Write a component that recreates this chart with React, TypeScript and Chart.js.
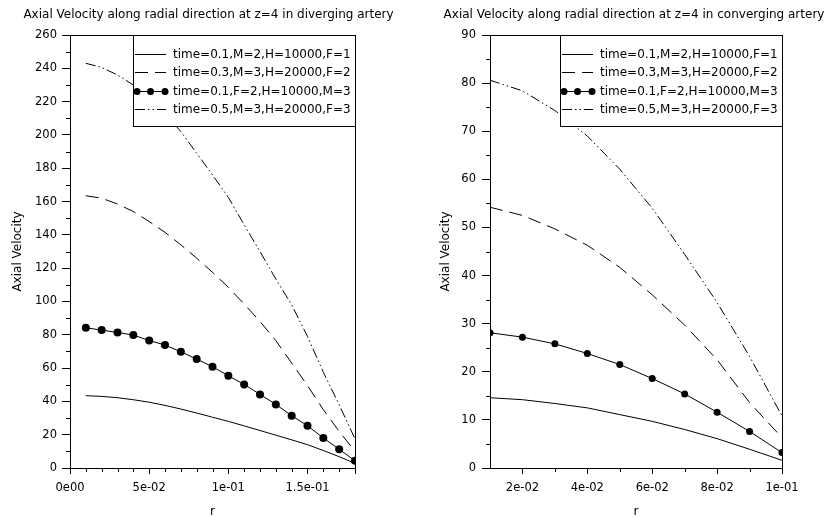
import React, { useEffect, useRef } from 'react';
import { Chart, registerables } from 'chart.js';

Chart.register(...registerables);

const FONT = "'DejaVu Sans', 'Liberation Sans', sans-serif";

// ---------- data ----------
const LEGEND_LABELS = [
  'time=0.1,M=2,H=10000,F=1',
  'time=0.3,M=3,H=20000,F=2',
  'time=0.1,F=2,H=10000,M=3',
  'time=0.5,M=3,H=20000,F=3',
];

const LEFT_TITLE = 'Axial Velocity along radial direction at z=4 in diverging artery';
const RIGHT_TITLE = 'Axial Velocity along radial direction at z=4 in converging artery';
const Y_TITLE = 'Axial Velocity';
const X_TITLE = 'r';

const LEFT_R = [0.01, 0.02, 0.03, 0.04, 0.05, 0.06, 0.07, 0.08, 0.09, 0.1, 0.11, 0.12, 0.13, 0.14, 0.15, 0.16, 0.17, 0.18];
const LEFT_S1 = [43.4, 43.0, 42.2, 41.0, 39.5, 37.6, 35.4, 33.0, 30.5, 28.0, 25.3, 22.5, 19.7, 16.9, 14.0, 10.5, 6.8, 2.8];
const LEFT_S2 = [163.5, 162, 158.5, 154, 148, 141.5, 134, 126, 117.5, 108.5, 98.5, 88, 76.5, 63, 49.5, 35, 22, 10];
const LEFT_S3 = [84.2, 82.8, 81.4, 79.8, 76.6, 73.8, 69.8, 65.4, 60.8, 55.4, 50.2, 44.2, 38.2, 31.4, 25.4, 18.0, 11.3, 4.3];
const LEFT_S4 = [243, 240.5, 236, 230, 222.5, 213, 202, 189, 176, 162.5, 146, 130, 113.5, 98, 79, 57.5, 38, 17.5];

const RIGHT_R = [0.01, 0.02, 0.03, 0.04, 0.05, 0.06, 0.07, 0.08, 0.09, 0.1];
const RIGHT_S1 = [14.6, 14.2, 13.4, 12.5, 11.1, 9.7, 8.0, 6.1, 3.9, 1.6];
const RIGHT_S2 = [54.2, 52.5, 49.7, 46.3, 41.7, 36.0, 29.7, 22.5, 13.6, 6.3];
const RIGHT_S3 = [28.1, 27.2, 25.8, 23.8, 21.5, 18.6, 15.4, 11.6, 7.6, 3.2];
const RIGHT_S4 = [80.6, 78.4, 74.3, 69.0, 62.1, 54.0, 44.4, 34.4, 23.2, 10.8];

const LEFT_X_TICKS = [0, 0.05, 0.1, 0.15, 0.18];
const LEFT_X_LABELS = ['0e00', '5e-02', '1e-01', '1.5e-01', ''];
const RIGHT_X_TICKS = [0.02, 0.04, 0.06, 0.08, 0.1];
const RIGHT_X_LABELS = ['2e-02', '4e-02', '6e-02', '8e-02', '1e-01'];

// ---------- helpers ----------
function minorValues(min: number, max: number, step: number, majors: number[]) {
  const out: number[] = [];
  const n = Math.round((max - min) / step);
  for (let i = 0; i <= n; i++) {
    const v = min + i * step;
    if (!majors.some((m) => Math.abs(m - v) < step * 0.01)) out.push(v);
  }
  return out;
}

const framePlugin = {
  id: 'frame',
  afterDatasetsDraw(chart: any) {
    const { ctx, chartArea: a } = chart;
    ctx.save();
    ctx.strokeStyle = '#000';
    ctx.lineWidth = 1;
    ctx.setLineDash([]);
    ctx.strokeRect(a.left + 0.5, a.top + 0.5, a.right - a.left, a.bottom - a.top);
    ctx.restore();
  },
};

const minorTicksPlugin = {
  id: 'minorTicks',
  afterDraw(chart: any, _args: any, opts: any) {
    const { ctx, chartArea: a, scales } = chart;
    ctx.save();
    ctx.strokeStyle = '#000';
    ctx.lineWidth = 1;
    ctx.setLineDash([]);
    for (const v of opts.x || []) {
      const px = Math.round(scales.x.getPixelForValue(v)) + 0.5;
      ctx.beginPath();
      ctx.moveTo(px, a.bottom);
      ctx.lineTo(px, a.bottom + opts.xLen);
      ctx.stroke();
    }
    for (const v of opts.y || []) {
      const py = Math.round(scales.y.getPixelForValue(v)) + 0.5;
      ctx.beginPath();
      ctx.moveTo(a.left - opts.yLen, py);
      ctx.lineTo(a.left, py);
      ctx.stroke();
    }
    ctx.restore();
  },
};

const boxLegendPlugin = {
  id: 'boxLegend',
  afterDatasetsDraw(chart: any, _args: any, opts: any) {
    const { ctx, chartArea: a } = chart;
    const left = a.right - opts.width;
    const top = a.top;
    ctx.save();
    ctx.fillStyle = '#fff';
    ctx.fillRect(left, top, opts.width, opts.height);
    ctx.strokeStyle = '#000';
    ctx.lineWidth = 1;
    ctx.setLineDash([]);
    ctx.strokeRect(Math.round(left) + 0.5, top + 0.5, a.right - Math.round(left), opts.height);
    ctx.font = `12px ${FONT}`;
    ctx.textBaseline = 'middle';
    ctx.textAlign = 'left';
    chart.data.datasets.forEach((ds: any, i: number) => {
      const y = Math.round(top + opts.firstRow + i * opts.rowGap) + 0.5;
      const x0 = left + opts.sampleStart;
      const x1 = x0 + opts.sampleLen;
      ctx.strokeStyle = '#000';
      ctx.lineWidth = 1;
      ctx.setLineDash(ds.borderDash || []);
      ctx.beginPath();
      ctx.moveTo(x0, y);
      ctx.lineTo(x1, y);
      ctx.stroke();
      ctx.setLineDash([]);
      if (ds.pointRadius > 0) {
        ctx.fillStyle = '#000';
        for (const px of [x0 + 2, (x0 + x1) / 2, x1 - 1]) {
          ctx.beginPath();
          ctx.arc(px, y, opts.markerRadius, 0, Math.PI * 2);
          ctx.fill();
        }
      }
      ctx.fillStyle = '#000';
      ctx.fillText(ds.label, left + opts.textStart, y);
    });
    ctx.restore();
  },
};

function makeDatasets(r: number[], series: number[][], pointR: number) {
  const dashes = [[], [13, 7], [], [10, 3, 1.5, 3, 1.5, 3]];
  return series.map((vals, i) => ({
    label: LEGEND_LABELS[i],
    data: r.map((x, k) => ({ x, y: vals[k] })),
    borderColor: '#000',
    backgroundColor: '#000',
    borderWidth: 1,
    borderDash: dashes[i],
    pointRadius: i === 2 ? pointR : 0,
    pointBackgroundColor: '#000',
    pointBorderColor: '#000',
    pointBorderWidth: 0,
    tension: 0,
    fill: false,
    xAxisID: 'x',
    yAxisID: 'y',
  }));
}

interface Cfg {
  title: string;
  r: number[];
  series: number[][];
  pointR: number;
  xMin: number;
  xMax: number;
  yMax: number;
  yStep: number;
  yMinorStep: number;
  xMinorStep: number;
  xTicks: number[];
  xLabels: string[];
  padLeft: number;
  yWidth: number;
  rightWidth: number;
  yTitlePad: number;
  yTickPad: number;
}

function buildConfig(c: Cfg): any {
  const yMajors: number[] = [];
  for (let v = 0; v <= c.yMax + 1e-9; v += c.yStep) yMajors.push(v);
  return {
    type: 'line',
    data: { datasets: makeDatasets(c.r, c.series, c.pointR) },
    plugins: [framePlugin, minorTicksPlugin, boxLegendPlugin],
    options: {
      responsive: false,
      animation: false,
      devicePixelRatio: 1,
      layout: { padding: { left: c.padLeft, right: 0, top: 0, bottom: 0 } },
      plugins: {
        legend: { display: false },
        tooltip: { enabled: false },
        title: {
          display: true,
          text: c.title,
          color: '#000',
          font: { family: FONT, size: 12, weight: 'normal' },
          padding: { top: 8, bottom: 12.6 },
        },
        minorTicks: {
          x: minorValues(c.xMin, c.xMax, c.xMinorStep, [c.xMin, ...c.xTicks]),
          y: minorValues(0, c.yMax, c.yMinorStep, yMajors),
          xLen: 4,
          yLen: 4,
        },
        boxLegend: {
          width: 222,
          height: 91,
          firstRow: 18.5,
          rowGap: 18.5,
          sampleStart: 2,
          sampleLen: 31,
          textStart: 40,
          markerRadius: 3.5,
        },
      },
      scales: {
        x: {
          type: 'linear',
          position: 'bottom',
          min: c.xMin,
          max: c.xMax,
          afterBuildTicks: (s: any) => {
            s.ticks = c.xTicks.map((v) => ({ value: v }));
          },
          afterFit: (s: any) => {
            s.height = 49;
          },
          ticks: {
            autoSkip: false,
            maxRotation: 0,
            color: '#000',
            padding: 7,
            font: { family: FONT, size: 11.5 },
            callback: (_v: any, i: number) => c.xLabels[i],
          },
          grid: { display: true, drawOnChartArea: false, drawTicks: true, tickLength: 6, color: '#000', lineWidth: 1 },
          border: { display: true, color: '#000', width: 1 },
          title: {
            display: true,
            text: X_TITLE,
            color: '#000',
            font: { family: FONT, size: 12 },
            padding: { top: 0, bottom: -2 },
          },
        },
        y: {
          type: 'linear',
          position: 'left',
          min: 0,
          max: c.yMax,
          afterFit: (s: any) => {
            s.width = c.yWidth;
          },
          ticks: {
            stepSize: c.yStep,
            autoSkip: false,
            color: '#000',
            padding: c.yTickPad,
            font: { family: FONT, size: 11.5 },
          },
          grid: { display: true, drawOnChartArea: false, drawTicks: true, tickLength: 8, color: '#000', lineWidth: 1 },
          border: { display: true, color: '#000', width: 1 },
          title: {
            display: true,
            text: Y_TITLE,
            color: '#000',
            font: { family: FONT, size: 12 },
            padding: { top: c.yTitlePad, bottom: 0 },
          },
        },
        yR: {
          type: 'linear',
          position: 'right',
          display: true,
          afterFit: (s: any) => {
            s.width = c.rightWidth;
          },
          ticks: { display: false },
          grid: { display: false },
          border: { display: false },
        },
      },
    },
  };
}

function ChartCanvas({ cfg }: { cfg: Cfg }) {
  const ref = useRef<HTMLCanvasElement | null>(null);
  useEffect(() => {
    if (!ref.current) return;
    const chart = new Chart(ref.current, buildConfig(cfg));
    return () => chart.destroy();
  }, []);
  return <canvas ref={ref} width={417} height={517} style={{ display: 'block', width: 417, height: 517 }} />;
}

const LEFT_CFG: Cfg = {
  title: LEFT_TITLE,
  r: LEFT_R,
  series: [LEFT_S1, LEFT_S2, LEFT_S3, LEFT_S4],
  pointR: 4,
  xMin: 0,
  xMax: 0.18,
  yMax: 260,
  yStep: 20,
  yMinorStep: 10,
  xMinorStep: 0.01,
  xTicks: LEFT_X_TICKS,
  xLabels: LEFT_X_LABELS,
  padLeft: 0,
  yWidth: 70,
  rightWidth: 62,
  yTitlePad: 11,
  yTickPad: 5,
};

const RIGHT_CFG: Cfg = {
  title: RIGHT_TITLE,
  r: RIGHT_R,
  series: [RIGHT_S1, RIGHT_S2, RIGHT_S3, RIGHT_S4],
  pointR: 3.5,
  xMin: 0.01,
  xMax: 0.1,
  yMax: 90,
  yStep: 10,
  yMinorStep: 5,
  xMinorStep: 0.01,
  xTicks: RIGHT_X_TICKS,
  xLabels: RIGHT_X_LABELS,
  padLeft: 17,
  yWidth: 56,
  rightWidth: 52,
  yTitlePad: 4.8,
  yTickPad: 6,
};

export default function App() {
  useEffect(() => {
    document.body.style.margin = '0';
    document.body.style.background = '#fff';
  }, []);
  return (
    <div style={{ position: 'absolute', left: 0, top: 0, width: 834, height: 517, display: 'flex', background: '#fff', overflow: 'hidden' }}>
      <ChartCanvas cfg={LEFT_CFG} />
      <ChartCanvas cfg={RIGHT_CFG} />
    </div>
  );
}
